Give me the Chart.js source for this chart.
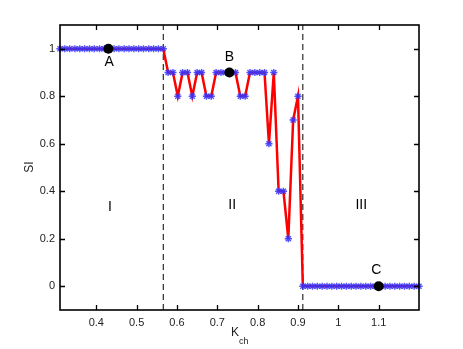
<!DOCTYPE html>
<html>
<head>
<meta charset="utf-8">
<script src="https://cdn.jsdelivr.net/npm/chart.js@4.4.1/dist/chart.umd.min.js"></script>
<style>
  html, body { margin: 0; padding: 0; background: #fff; }
  #wrap { width: 463px; height: 349px; }
</style>
</head>
<body>
<div id="wrap"><canvas id="chart" width="463" height="349"></canvas></div>
<script>
// K_ch sample points
const kValues = [
  0.310, 0.322, 0.334, 0.347, 0.359, 0.371, 0.383, 0.395, 0.408, 0.420, 0.432,
  0.444, 0.456, 0.469, 0.481, 0.493, 0.505, 0.517, 0.530, 0.542, 0.554, 0.566,
  0.578, 0.590, 0.602, 0.614, 0.626, 0.638, 0.650, 0.661, 0.673, 0.685, 0.697,
  0.709, 0.721, 0.733, 0.745, 0.757, 0.769, 0.781, 0.793, 0.805, 0.817, 0.828,
  0.840, 0.852, 0.864, 0.876, 0.888, 0.900, 0.912,
  0.924, 0.936, 0.948, 0.960, 0.972, 0.984, 0.996, 1.008, 1.020, 1.032, 1.044,
  1.056, 1.068, 1.080, 1.092, 1.104, 1.116, 1.128, 1.140, 1.152, 1.164, 1.176,
  1.188, 1.200
];

// SI values
const siValues = [
  1, 1, 1, 1, 1, 1, 1, 1, 1, 1, 1,
  1, 1, 1, 1, 1, 1, 1, 1, 1, 1, 1,
  0.9, 0.9, 0.8, 0.9, 0.9, 0.8, 0.9, 0.9, 0.8, 0.8, 0.9,
  0.9, 0.9, 0.9, 0.9, 0.8, 0.8, 0.9, 0.9, 0.9, 0.9, 0.6,
  0.9, 0.4, 0.4, 0.2, 0.7, 0.8, 0,
  0, 0, 0, 0, 0, 0, 0, 0, 0, 0, 0,
  0, 0, 0, 0, 0, 0, 0, 0, 0, 0, 0,
  0, 0
];

// region boundaries
const boundaries = [0.566, 0.912];

// marked points A, B, C
const markNames = ["A", "B", "C"];
const markK = [0.43, 0.73, 1.1];
const markSI = [1, 0.9, 0];

// text labels: [text, k, si]
const letterPos = [["A", 0.432, 0.945], ["B", 0.730, 0.963], ["C", 1.094, 0.066]];
const regionLabels = [["I", 0.434, 0.335], ["II", 0.737, 0.34], ["III", 1.057, 0.34]];

const xTicks = [0.4, 0.5, 0.6, 0.7, 0.8, 0.9, 1, 1.1];
const yTicks = [0, 0.2, 0.4, 0.6, 0.8, 1];
const xMin = 0.31, xMax = 1.2, yMin = -0.1, yMax = 1.1;

const FONT = "'Liberation Sans', Arial, Helvetica, sans-serif";

function fmt(v) {
  return String(Number(v.toFixed(2)));
}

// build datasets
const mainData = kValues.map((k, i) => ({ x: k, y: siValues[i] }));
const markData = markK.map((k, i) => ({ x: k, y: markSI[i] }));
const boundarySets = boundaries.map((b) => ({
  type: "line",
  data: [{ x: b, y: yMin }, { x: b, y: yMax }],
  borderColor: "#000",
  borderWidth: 1,
  borderDash: [6, 4],
  pointRadius: 0,
  order: 3,
}));

// axes box, inward ticks, labels
const decorPlugin = {
  id: "decor",
  afterDatasetsDraw(chart) {
    const ctx = chart.ctx;
    const a = chart.chartArea;
    const xs = chart.scales.x;
    const ys = chart.scales.y;
    ctx.save();

    // text labels
    ctx.fillStyle = "#000";
    ctx.textAlign = "center";
    ctx.textBaseline = "middle";
    ctx.font = "14px " + FONT;
    letterPos.concat(regionLabels).forEach((t) => {
      ctx.fillText(t[0], xs.getPixelForValue(t[1]), ys.getPixelForValue(t[2]));
    });

    // box
    ctx.strokeStyle = "#000";
    ctx.lineWidth = 1.6;
    ctx.strokeRect(a.left, a.top, a.right - a.left, a.bottom - a.top);

    // inward ticks on all four sides
    const tl = 5;
    ctx.lineWidth = 1.3;
    ctx.beginPath();
    xTicks.forEach((v) => {
      const px = Math.round(xs.getPixelForValue(v)) + 0.5;
      ctx.moveTo(px, a.bottom);
      ctx.lineTo(px, a.bottom - tl);
      ctx.moveTo(px, a.top);
      ctx.lineTo(px, a.top + tl);
    });
    yTicks.forEach((v) => {
      const py = Math.round(ys.getPixelForValue(v)) + 0.5;
      ctx.moveTo(a.left, py);
      ctx.lineTo(a.left + tl, py);
      ctx.moveTo(a.right, py);
      ctx.lineTo(a.right - tl, py);
    });
    ctx.stroke();

    // axis titles
    ctx.fillStyle = "#222";
    ctx.font = "12px " + FONT;
    ctx.textAlign = "left";
    ctx.fillText("K", 231, 333);
    ctx.font = "9px " + FONT;
    ctx.fillText("ch", 239, 342);

    ctx.translate(30, 167);
    ctx.rotate(-Math.PI / 2);
    ctx.textAlign = "center";
    ctx.font = "12px " + FONT;
    ctx.fillText("SI", 0, 0);
    ctx.restore();
  },
};

new Chart(document.getElementById("chart"), {
  type: "line",
  data: {
    datasets: [
      {
        data: markData,
        showLine: false,
        pointRadius: 5,
        pointBackgroundColor: "#000",
        pointBorderColor: "#000",
        pointBorderWidth: 0,
        order: 0,
      },
      {
        data: mainData,
        borderColor: "#ff0000",
        borderWidth: 2.5,
        pointStyle: "star",
        pointRadius: 3.6,
        pointBorderColor: "rgba(50,50,255,0.85)",
        pointBackgroundColor: "rgba(50,50,255,0.85)",
        pointBorderWidth: 1.4,
        tension: 0,
        clip: 4,
        order: 1,
      },
      ...boundarySets,
    ],
  },
  options: {
    responsive: false,
    animation: false,
    layout: { padding: { top: 25, right: 44, bottom: 0, left: 0 } },
    plugins: { legend: { display: false }, tooltip: { enabled: false } },
    scales: {
      x: {
        type: "linear",
        min: xMin,
        max: xMax,
        grid: { display: false, drawTicks: false },
        border: { display: false },
        afterBuildTicks(scale) {
          scale.ticks = xTicks.map((v) => ({ value: v }));
        },
        afterFit(scale) {
          scale.height = 39;
        },
        ticks: {
          padding: 6,
          color: "#222",
          font: { family: FONT, size: 11 },
          maxRotation: 0,
          callback: (v) => fmt(v),
        },
      },
      y: {
        type: "linear",
        min: yMin,
        max: yMax,
        grid: { display: false, drawTicks: false },
        border: { display: false },
        afterBuildTicks(scale) {
          scale.ticks = yTicks.map((v) => ({ value: v }));
        },
        afterFit(scale) {
          scale.width = 60;
        },
        ticks: {
          padding: 5,
          color: "#222",
          font: { family: FONT, size: 11 },
          callback: (v) => fmt(v),
        },
      },
    },
  },
  plugins: [decorPlugin],
});
</script>
</body>
</html>
